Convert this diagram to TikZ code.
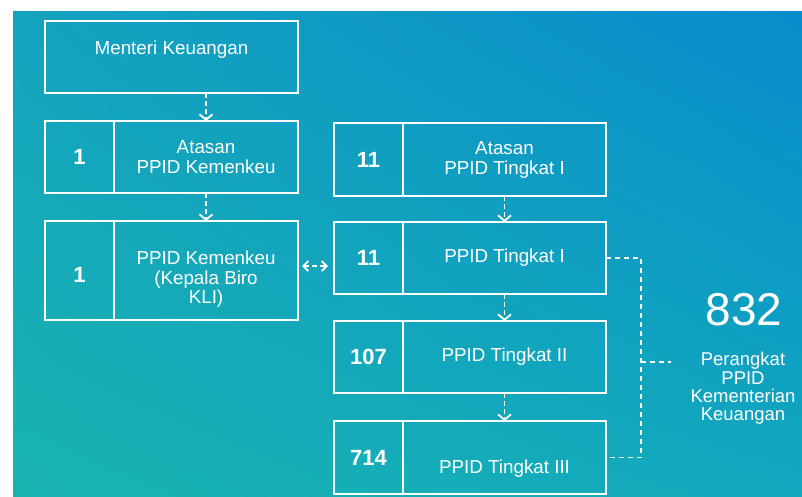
\documentclass[tikz,border=0pt]{standalone}
\usepackage{fontspec}
\setmainfont{Liberation Sans}
\usetikzlibrary{arrows.meta,calc,shadings}
\definecolor{bgUL}{RGB}{20,163,190}
\definecolor{bgUR}{RGB}{8,140,204}
\definecolor{bgLL}{RGB}{24,180,176}
\definecolor{bgLR}{RGB}{18,168,190}
\begin{document}
\begin{tikzpicture}[x=1pt,y=-1pt,
  box/.style={draw=white, line width=1.8pt, rectangle, inner sep=0pt, outer sep=0pt,
    text=white, font=\fontsize{18.8}{20}\selectfont, align=center},
  numbox/.style={box, minimum width=69pt, font=\bfseries\fontsize{22}{24}\selectfont},
  darr/.style={draw=white, line width=1.8pt, dash pattern=on 5pt off 3pt,
    -{Straight Barb[length=5.5pt,width=13pt]}},
  dline/.style={draw=white, line width=1.8pt, dash pattern=on 5pt off 4pt},
  biarr/.style={draw=white, line width=1.8pt, dash pattern=on 5pt off 3pt,
    {Straight Barb[length=5pt,width=10pt]}-{Straight Barb[length=5pt,width=10pt]}}
]
\useasboundingbox (0,0) rectangle (802,496);
\fill[white] (0,0) rectangle (802,496);
\shade[upper left=bgUL, upper right=bgUR, lower left=bgLL, lower right=bgLR]
  (13,11) rectangle (802,496);

% left column
\node[box, minimum width=253pt, minimum height=72pt, text height=13.5pt, text depth=18.5pt]
  (men) at (171.5,57) {Menteri Keuangan};
\node[numbox, minimum height=72pt] (a0n) at (79.5,157) {1};
\node[box, minimum width=184pt, minimum height=72pt] (a0l) at (206,157) {Atasan\\PPID Kemenkeu};
\node[numbox, minimum height=99pt, text height=23pt, text depth=0pt] (kn) at (79.5,270.5) {1};
\node[box, minimum width=184pt, minimum height=99pt, text height=66pt, text depth=0pt,
  font=\fontsize{18.8}{19.5}\selectfont] (kl) at (206,270.5) {PPID Kemenkeu\\(Kepala Biro\\KLI)};

% right column
\node[numbox, minimum height=73pt] (ran) at (368.5,159.5) {11};
\node[box, minimum width=203pt, minimum height=73pt] (ral) at (504.5,159.5) {Atasan\\PPID Tingkat I};
\node[numbox, minimum height=72pt] (t1n) at (368.5,258) {11};
\node[box, minimum width=203pt, minimum height=72pt] (t1l) at (504.5,258) {PPID Tingkat I};
\node[numbox, minimum height=72pt] (t2n) at (368.5,357) {107};
\node[box, minimum width=203pt, minimum height=72pt] (t2l) at (504.5,357) {PPID Tingkat II};
\node[numbox, minimum height=73pt] (t3n) at (368.5,457.5) {714};
\node[box, minimum width=203pt, minimum height=73pt, text height=32pt, text depth=0pt] (t3l) at (504.5,457.5) {PPID Tingkat III};

% vertical arrows
\draw[darr] (men.south -| a0l) -- (a0l.north);
\draw[darr] (a0l.south) -- (kl.north);
\draw[darr] (ral.south) -- (t1l.north);
\draw[darr] (t1l.south) -- (t2l.north);
\draw[darr] (t2l.south) -- (t3l.north);

% double arrow
\coordinate (ly) at (0,266);
\draw[biarr, shorten <=4pt, shorten >=6pt] (kl.east |- ly) -- (t1n.west |- ly);

% bracket
\coordinate (bx) at (641,0);
\coordinate (bend) at (671,362);
\draw[dline] (t1l.east) -- (t1l.east -| bx) -- (t3l.east -| bx) -- (t3l.east);
\draw[dline] (bend -| bx) -- (bend);

% total
\node[text=white, font=\fontsize{46}{50}\selectfont, inner sep=0pt] (tot) at (744,310) {832};
\node[text=white, font=\fontsize{18.5}{18.3}\selectfont, align=center, inner sep=0pt] (totl) at (743,388.5)
  {Perangkat\\PPID\\Kementerian\\Keuangan};
\end{tikzpicture}
\end{document}
